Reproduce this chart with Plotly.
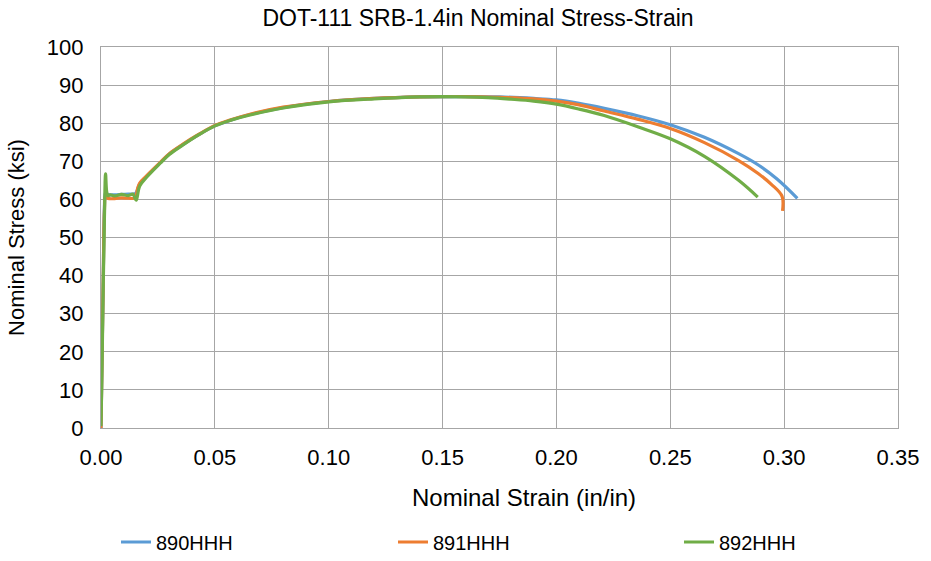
import plotly.graph_objects as go

# ---- data ----
strain_890 = [0.0, 0.0005, 0.001, 0.0015, 0.002, 0.003, 0.006, 0.009, 0.012, 0.015,
              0.016, 0.017, 0.020, 0.026, 0.030, 0.036, 0.043, 0.050, 0.057, 0.065,
              0.080, 0.100, 0.120, 0.140, 0.160, 0.175, 0.190, 0.200, 0.210, 0.221,
              0.236, 0.250, 0.265, 0.280, 0.289, 0.297, 0.3058]
stress_890 = [0.0, 20.0, 40.0, 58.0, 61.8, 61.3, 61.2, 61.3, 61.4, 61.5,
              62.5, 64.0, 66.0, 69.6, 71.9, 74.4, 77.0, 79.3, 80.8, 82.2,
              84.1, 85.7, 86.5, 86.9, 87.0, 86.9, 86.5, 86.1, 85.2, 83.9,
              81.9, 79.6, 76.3, 72.0, 68.9, 65.3, 60.3]

strain_891 = [0.0, 0.0005, 0.001, 0.0015, 0.002, 0.003, 0.006, 0.009, 0.012, 0.015,
              0.016, 0.017, 0.020, 0.026, 0.030, 0.036, 0.043, 0.050, 0.057, 0.065,
              0.080, 0.100, 0.120, 0.140, 0.160, 0.175, 0.190, 0.200, 0.210, 0.221,
              0.236, 0.250, 0.265, 0.280, 0.2886, 0.2945, 0.2991, 0.2993]
stress_891 = [0.0, 20.0, 40.0, 57.0, 61.0, 60.3, 60.2, 60.4, 60.3, 60.4,
              62.7, 64.3, 66.2, 69.7, 72.0, 74.5, 77.1, 79.4, 80.9, 82.3,
              84.2, 85.7, 86.5, 86.9, 87.0, 86.8, 86.4, 85.8, 84.8, 83.2,
              81.0, 78.6, 74.9, 70.2, 66.8, 63.9, 60.8, 57.0]

strain_892 = [0.0, 0.0005, 0.001, 0.0015, 0.002, 0.0025, 0.003, 0.004, 0.006, 0.009,
              0.012, 0.014, 0.015, 0.0155, 0.017, 0.020, 0.026, 0.030, 0.036, 0.043,
              0.050, 0.057, 0.065, 0.080, 0.100, 0.120, 0.140, 0.160, 0.170, 0.180,
              0.190, 0.200, 0.210, 0.221, 0.236, 0.250, 0.265, 0.280, 0.2884]
stress_892 = [0.5, 18.0, 38.0, 55.0, 66.7, 62.0, 61.0, 61.2, 60.9, 61.3,
              61.0, 61.4, 60.2, 59.8, 63.5, 65.8, 69.5, 71.8, 74.3, 77.0,
              79.3, 80.8, 82.1, 84.0, 85.6, 86.4, 86.9, 86.9, 86.7, 86.3,
              85.8, 85.0, 83.7, 82.0, 79.0, 75.9, 71.3, 65.0, 60.6]

series_names = ["890HHH", "891HHH", "892HHH"]
series_colors = ["#5B9BD5", "#ED7D31", "#70AD47"]
x_ticks = [0.00, 0.05, 0.10, 0.15, 0.20, 0.25, 0.30, 0.35]
y_ticks = [0, 10, 20, 30, 40, 50, 60, 70, 80, 90, 100]

title_text = "DOT-111 SRB-1.4in Nominal Stress-Strain"
x_title = "Nominal Strain (in/in)"
y_title = "Nominal Stress (ksi)"

FONT = "Liberation Sans, Arial, sans-serif"
GRID = "#A6A6A6"
legend_ids = ["legend", "legend2", "legend3"]
legend_x_px = [116, 393, 679]

fig = go.Figure()
for xs, ys, name, color, lid in zip(
    [strain_890, strain_891, strain_892],
    [stress_890, stress_891, stress_892],
    series_names, series_colors, legend_ids,
):
    fig.add_trace(go.Scatter(x=xs, y=ys, mode="lines", name=name, legend=lid,
                             line=dict(color=color, width=3.2, shape="spline",
                                       smoothing=1.0)))

legend_common = dict(orientation="h", xref="container", yref="container",
                     xanchor="left", y=1 - 542 / 561, yanchor="middle",
                     font=dict(size=20, family=FONT, color="#000000"),
                     bgcolor="rgba(0,0,0,0)")

fig.update_layout(
    width=931, height=561,
    margin=dict(l=101, r=31, t=47, b=133),
    paper_bgcolor="white", plot_bgcolor="white",
    font=dict(family=FONT, color="#000000", size=22),
    title=dict(text=title_text, x=478 / 931, xanchor="center",
               y=1 - 18 / 561, yanchor="middle",
               font=dict(size=23, family=FONT, color="#000000")),
    showlegend=True,
    legend=dict(x=legend_x_px[0] / 931, **legend_common),
    legend2=dict(x=legend_x_px[1] / 931, **legend_common),
    legend3=dict(x=legend_x_px[2] / 931, **legend_common),
    annotations=[dict(text=x_title, xref="paper", yref="paper",
                      x=(525 - 101) / 799, y=-(497 - 428) / 381,
                      xanchor="center", yanchor="middle", showarrow=False,
                      font=dict(size=24, family=FONT, color="#000000"))],
)

fig.update_xaxes(
    range=[0, 0.35], tickvals=x_ticks, tickformat=".2f",
    showgrid=True, gridcolor=GRID, gridwidth=1.3,
    showline=True, linecolor=GRID, linewidth=1.3, mirror=True,
    zeroline=False, ticks="", ticklabelstandoff=9,
    tickfont=dict(size=22, family=FONT, color="#000000"),
)
fig.update_yaxes(
    range=[0, 100], tickvals=y_ticks,
    showgrid=True, gridcolor=GRID, gridwidth=1.3,
    showline=True, linecolor=GRID, linewidth=1.3, mirror=True,
    zeroline=False, ticks="", ticklabelstandoff=12,
    tickfont=dict(size=22, family=FONT, color="#000000"),
    title=dict(text=y_title, font=dict(size=22, family=FONT, color="#000000"),
               standoff=16),
)

fig.write_html("out.html")
